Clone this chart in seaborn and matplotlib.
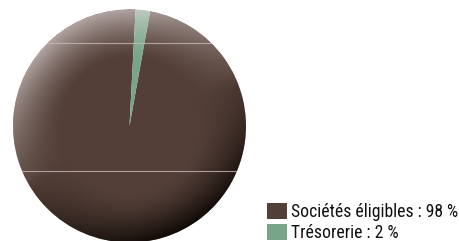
import numpy as np
import matplotlib
matplotlib.use("Agg")
import matplotlib.pyplot as plt
import seaborn as sns
from matplotlib.patches import Circle, Patch

categories = ["Sociétés éligibles", "Trésorerie"]
values = [98, 2]
labels = ["Sociétés éligibles : 98 %", "Trésorerie : 2 %"]

sns.set_theme(style="white")
plt.rcParams["font.family"] = ["Roboto Condensed", "DejaVu Sans"]
plt.rcParams["font.stretch"] = "condensed"
colors = sns.color_palette(["#533f37", "#78a58a"])

W, H = 459, 241
fig = plt.figure(figsize=(W / 100, H / 100), dpi=100)
cx, cy, R = 129.5, 126.0, 116.5
ax = fig.add_axes([(cx - R) / W, (H - cy - R) / H, 2 * R / W, 2 * R / H])
wedges, _ = ax.pie(values, colors=colors, startangle=87, counterclock=True,
                   radius=1.0, wedgeprops=dict(linewidth=0))
ax.set_xlim(-1, 1)
ax.set_ylim(-1, 1)
ax.set_aspect("equal")
ax.axis("off")

# spherical shading overlay
n = 400
xs = np.linspace(-1, 1, n)
X, Y = np.meshgrid(xs, xs[::-1])
r = np.sqrt(X**2 + Y**2) + 1e-9
rim = np.clip((r - 0.58) / 0.42, 0, 1) ** 1.4
d = (-0.45 * X + 0.89 * Y) / r
light = rim * np.clip(d + 0.1, 0, 1) * 0.6
dark = rim * np.clip(-d, 0, 1) * 0.9
clip = Circle((0, 0), 1.0, transform=ax.transData)
img_l = np.zeros((n, n, 4)); img_l[..., :3] = [0.93, 0.9, 0.9]; img_l[..., 3] = np.clip(light, 0, 1)
img_d = np.zeros((n, n, 4)); img_d[..., :3] = [0.03, 0.01, 0.0]; img_d[..., 3] = dark
for img in (img_l, img_d):
    im = ax.imshow(img, extent=(-1, 1, -1, 1), zorder=3, interpolation="bilinear")
    im.set_clip_path(clip)

for yv in (0.712, -0.386):
    ln = ax.axhline(yv, color="#c8b8b3", lw=0.8, alpha=0.8, zorder=4)
    ln.set_clip_path(Circle((0, 0), 1.0, transform=ax.transData))

# fit legend font so the first label spans ~167 px
fs = 13.0
renderer = fig.canvas.get_renderer()
t = fig.text(0, 0, labels[0], fontsize=fs)
w = t.get_window_extent(renderer).width
t.remove()
fs = min(13.0, fs * 166.0 / w)
fpx = fs * 100 / 72

handles = [Patch(facecolor=c, edgecolor="none") for c in colors]
leg = fig.legend(handles, labels, loc="upper left", bbox_to_anchor=(267 / W, 1 - 203 / H),
                 frameon=False, fontsize=fs, handlelength=20 / fpx,
                 handleheight=17 / fpx, handletextpad=4 / fpx,
                 labelspacing=3 / fpx, borderpad=0, borderaxespad=0)
for txt in leg.get_texts():
    txt.set_color("#111111")

fig.savefig("out.png", dpi=100)
